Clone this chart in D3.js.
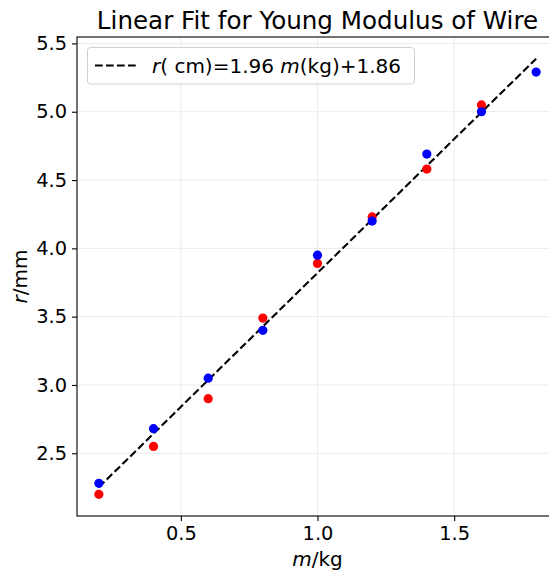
<!DOCTYPE html>
<html>
<head>
<meta charset="utf-8">
<title>Linear Fit for Young Modulus of Wire</title>
<script src="https://d3js.org/d3.v7.min.js"></script>
<style>
  body { margin: 0; background: #fff; }
  svg text { font-family: "DejaVu Sans", sans-serif; fill: #000; }
  .grid line { stroke: #ebebeb; stroke-width: 1; }
</style>
</head>
<body>
<svg id="chart" width="549" height="572"></svg>
<script>
// data
var masses = [0.2, 0.4, 0.6, 0.8, 1.0, 1.2, 1.4, 1.6, 1.8];
var redR   = [2.20, 2.55, 2.90, 3.49, 3.89, 4.23, 4.58, 5.05];
var blueR  = [2.28, 2.68, 3.05, 3.40, 3.95, 4.20, 4.69, 5.00, 5.29];
var fitSlope = 1.96, fitIntercept = 1.86;
var xTicks = [0.5, 1.0, 1.5];
var yTicks = [2.5, 3.0, 3.5, 4.0, 4.5, 5.0, 5.5];

var svg = d3.select("#chart");
var pLeft = 77, pRight = 558, pTop = 37, pBottom = 516;
var fs = 19.4;

var x = d3.scaleLinear().domain([0.12, 1.88]).range([pLeft, pRight]);
var y = d3.scaleLinear().domain([2.041, 5.547]).range([pBottom, pTop]);

// grid
var grid = svg.append("g").attr("class", "grid");
grid.selectAll(".gx").data(xTicks).enter().append("line")
    .attr("x1", d => x(d)).attr("x2", d => x(d))
    .attr("y1", pTop).attr("y2", pBottom);
grid.selectAll(".gy").data(yTicks).enter().append("line")
    .attr("x1", pLeft).attr("x2", pRight)
    .attr("y1", d => y(d)).attr("y2", d => y(d));

// fit line
var fitPts = [masses[0], masses[masses.length - 1]].map(m => [m, fitSlope * m + fitIntercept]);
svg.append("path")
    .attr("d", d3.line().x(d => x(d[0])).y(d => y(d[1]))(fitPts))
    .attr("fill", "none").attr("stroke", "#000")
    .attr("stroke-width", 2.1).attr("stroke-dasharray", "7.7,3.3");

// points
svg.append("g").selectAll("circle").data(redR).enter().append("circle")
    .attr("cx", (d, i) => x(masses[i])).attr("cy", d => y(d))
    .attr("r", 4.6).attr("fill", "#ff0000");
svg.append("g").selectAll("circle").data(blueR).enter().append("circle")
    .attr("cx", (d, i) => x(masses[i])).attr("cy", d => y(d))
    .attr("r", 4.6).attr("fill", "#0000ff");

// axes
var xAxis = svg.append("g").attr("transform", "translate(0," + pBottom + ")")
    .call(d3.axisBottom(x).tickValues(xTicks).tickFormat(d3.format(".1f"))
        .tickSizeInner(5).tickSizeOuter(0).tickPadding(5));
var yAxis = svg.append("g").attr("transform", "translate(" + pLeft + ",0)")
    .call(d3.axisLeft(y).tickValues(yTicks).tickFormat(d3.format(".1f"))
        .tickSizeInner(5).tickSizeOuter(0).tickPadding(5));
[xAxis, yAxis].forEach(function(a) {
  a.select(".domain").remove();
  a.selectAll("line").attr("stroke", "#000").attr("stroke-width", 1.1);
  a.selectAll("text").style("font-size", fs + "px")
      .style("font-family", "DejaVu Sans, sans-serif").attr("fill", "#000");
});

// spines
svg.append("rect").attr("x", pLeft).attr("y", pTop)
    .attr("width", pRight - pLeft).attr("height", pBottom - pTop)
    .attr("fill", "none").attr("stroke", "#000").attr("stroke-width", 1.1);

// title
svg.append("text").attr("x", (pLeft + pRight) / 2).attr("y", 29)
    .attr("text-anchor", "middle").style("font-size", "24.6px")
    .text("Linear Fit for Young Modulus of Wire");

// axis labels
var xl = svg.append("text").attr("x", (pLeft + pRight) / 2).attr("y", 566)
    .attr("text-anchor", "middle").style("font-size", "20px");
xl.append("tspan").style("font-style", "italic").text("m");
xl.append("tspan").text("/kg");

var yl = svg.append("text")
    .attr("transform", "translate(27," + (pTop + pBottom) / 2 + ") rotate(-90)")
    .attr("text-anchor", "middle").style("font-size", "20px");
yl.append("tspan").style("font-style", "italic").text("r");
yl.append("tspan").text("/mm");

// legend
var lg = svg.append("g");
lg.append("rect").attr("x", 87.5).attr("y", 47.5).attr("width", 327).attr("height", 36.5)
    .attr("rx", 3).attr("fill", "#fff").attr("fill-opacity", 0.8)
    .attr("stroke", "#d0d0d0").attr("stroke-width", 1);
lg.append("line").attr("x1", 95).attr("x2", 136).attr("y1", 65.5).attr("y2", 65.5)
    .attr("stroke", "#000").attr("stroke-width", 2.1).attr("stroke-dasharray", "7.7,3.3");
var lt = lg.append("text").attr("x", 152).attr("y", 72.5).style("font-size", "20px");
lt.append("tspan").style("font-style", "italic").text("r");
lt.append("tspan").text("( cm)=1.96 ");
lt.append("tspan").style("font-style", "italic").text("m");
lt.append("tspan").text("(kg)+1.86");
</script>
</body>
</html>
